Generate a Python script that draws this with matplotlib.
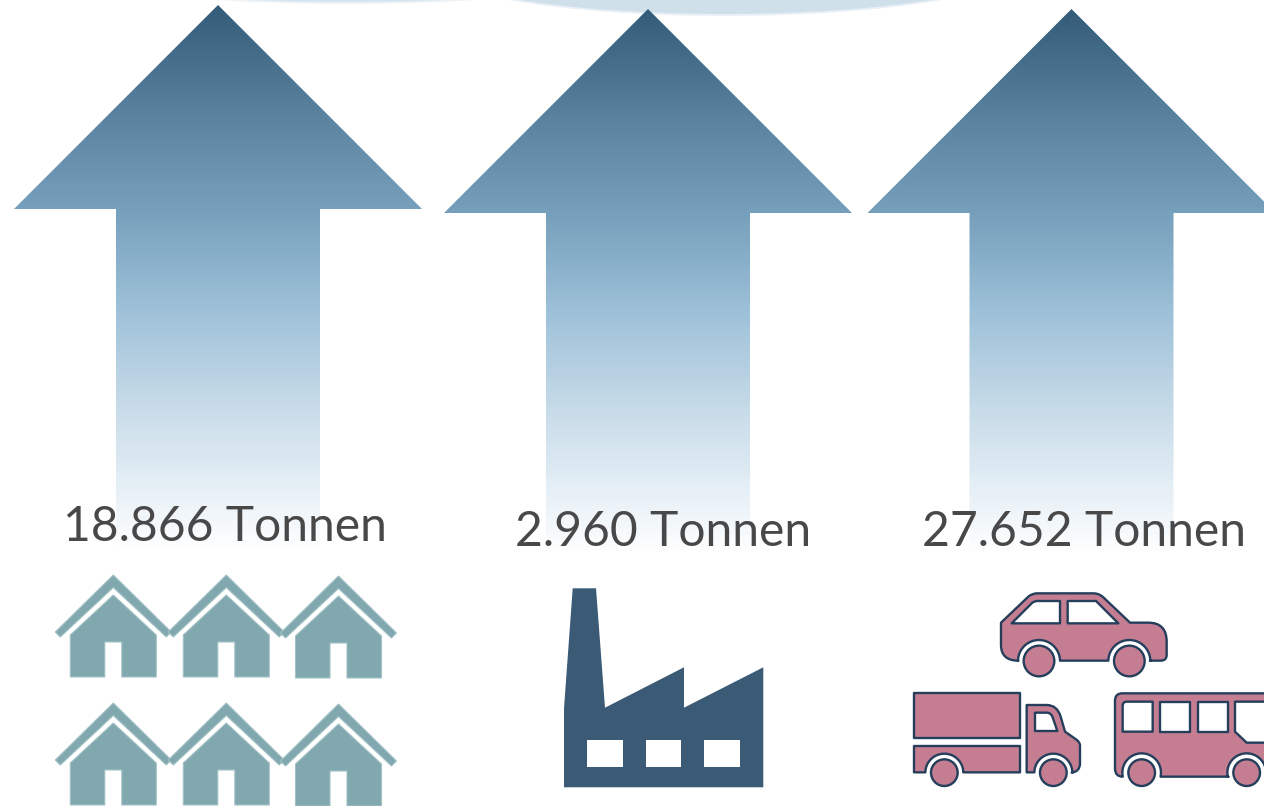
import numpy as np
import matplotlib
matplotlib.use("Agg")
import matplotlib.pyplot as plt
from matplotlib.path import Path
from matplotlib.patches import PathPatch, Polygon, Ellipse, Rectangle, Circle
from matplotlib.colors import LinearSegmentedColormap

# --- content ---
tonnages = ["18.866", "2.960", "27.652"]
unit = "Tonnen"
label_centres = [225, 663, 1083.5]
label_baselines = [541, 545.5, 545.5]
arrow_tips = [(218, 5), (648, 9), (1071.5, 9)]

W, H = 1264, 806
fig = plt.figure(figsize=(W / 100, H / 100), dpi=100, facecolor="white")
ax = fig.add_axes([0, 0, 1, 1])
ax.set_xlim(0, W)
ax.set_ylim(H, 0)
ax.axis("off")

# clouds at top edge
ax.add_patch(Ellipse((347, -14), 408, 36, fc="#edf3f7", ec="none", zorder=1))
ax.add_patch(Ellipse((347, -14), 400, 32, fc="#d5e3ee", ec="none", zorder=1))
ax.add_patch(Ellipse((725, -37.5), 606, 107, fc="#e9f0f6", ec="none", zorder=1))
ax.add_patch(Ellipse((725, -37.5), 600, 103, fc="#d0e0eb", ec="none", zorder=1))

# arrows
cmap = LinearSegmentedColormap.from_list("arr", [
    (0.00, "#345c78"), (0.20, "#5a83a0"), (0.375, "#76a0bc"), (0.55, "#9cc0d8"),
    (0.72, "#c4d9e7"), (0.88, "#e5eff6"), (1.00, "#ffffff")])
grad = np.linspace(0, 1, 600)[:, None]
for tx, ty in arrow_tips:
    base = ty + 204
    bottom = ty + 546
    im = ax.imshow(grad, cmap=cmap, extent=[tx - 210, tx + 210, bottom, ty],
                   aspect="auto", zorder=2, interpolation="bilinear")
    poly = Polygon([(tx, ty), (tx + 204, base), (tx + 102, base), (tx + 102, bottom),
                    (tx - 102, bottom), (tx - 102, base), (tx - 204, base)],
                   closed=True, transform=ax.transData, fc="none", ec="none")
    ax.add_patch(poly)
    im.set_clip_path(poly)
ax.set_xlim(0, W)
ax.set_ylim(H, 0)

# labels
for t, cx, by in zip(tonnages, label_centres, label_baselines):
    ax.text(cx, by, f"{t} {unit}", family="Lato", fontsize=34.6, color="#484848",
            ha="center", va="baseline", zorder=5)

# houses
HOUSE = "#80a8ae"
EDGE = "#a3c2c6"
def house(cx, top):
    roof = [(cx, top), (cx + 58, top + 57), (cx + 53, top + 62), (cx, top + 12.5),
            (cx - 53, top + 62), (cx - 58, top + 57)]
    ax.add_patch(Polygon(roof, closed=True, fc=HOUSE, ec=EDGE, lw=0.8, zorder=4))
    body = [(cx, top + 20), (cx + 43, top + 60), (cx + 43, top + 102), (cx + 8.5, top + 102),
            (cx + 8.5, top + 67), (cx - 8.5, top + 67), (cx - 8.5, top + 102),
            (cx - 43, top + 102), (cx - 43, top + 60)]
    ax.add_patch(Polygon(body, closed=True, fc=HOUSE, ec=EDGE, lw=0.8, zorder=4))
for top in (575, 703):
    for cx, dy in ((113.3, 0), (226.3, 0), (338.5, 1)):
        house(cx, top + dy)

# factory
FACT = "#3b5a75"
ax.add_patch(Polygon([(564, 787.3), (564, 708.3), (572.7, 588.3), (596, 588.3), (605, 707.7),
                      (684, 667.3), (684, 707.7), (763.3, 667.3), (763.3, 787.3)],
                     closed=True, fc=FACT, ec="none", zorder=4))
for x0, x1 in ((587.3, 622.7), (646, 681.3), (704.3, 740)):
    ax.add_patch(Rectangle((x0, 740.3), x1 - x0, 26.4, fc="white", ec="none", zorder=5))

# vehicles (outline coordinates given in 3x crop space)
PINK, NAVY = "#c57e91", "#253e5c"
LW = 1.7
def Z(p):
    return (900 + p[0] / 3, 580 + p[1] / 3)

def arch2(cx, cy, r, ybase):
    # from right foot over the top to the left foot
    d = cy - ybase   # positive if base is above centre
    a = np.arcsin(np.clip(d / r, -1, 1))
    th = np.linspace(a, np.pi - a, 30)
    return [(cx + r * np.cos(t), cy - r * np.sin(t)) for t in th]

def shape(segs, fc=PINK, z=4):
    verts, codes = [], []
    for s in segs:
        if s[0] == "q":
            verts += [Z(s[1]), Z(s[2])]
            codes += [Path.CURVE3, Path.CURVE3]
        else:
            codes.append(Path.MOVETO if not verts else Path.LINETO)
            verts.append(Z(s))
    verts.append(verts[0])
    codes.append(Path.CLOSEPOLY)
    ax.add_patch(PathPatch(Path(verts, codes), fc=fc, ec=NAVY, lw=LW, zorder=z, joinstyle="round"))

def wheel(cx, cy, r):
    c = Z((cx, cy))
    ax.add_patch(Circle(c, r / 3, fc=PINK, ec=NAVY, lw=LW, zorder=5))

# car
shape([(355, 242), ("q", (303, 242), (303, 195)), (303, 128), (385, 50), ("q", (396, 40), (412, 40)),
       (580, 40), ("q", (597, 40), (610, 52)), (690, 128), (745, 128), ("q", (800, 128), (800, 185)),
       (800, 225), ("q", (800, 242), (782, 242)), (750, 242)]
      + arch2(688, 243, 63, 242) + [(480, 242)] + arch2(417, 243, 63, 242))
shape([(335, 130), (395, 70), ("q", (402, 63), (412, 63)), (480, 63), (480, 130)], fc="white", z=5)
shape([(503, 63), (588, 63), (655, 130), (503, 130)], fc="white", z=5)
wheel(417, 243, 46); wheel(688, 243, 46)

# truck
shape([(42, 340), (360, 340), (360, 475), (42, 475)])
shape([(42, 498), (360, 498), (360, 577), (190, 577)] + arch2(133, 578, 57, 577) + [(42, 577)])
shape([(380, 375), (440, 375), ("q", (472, 375), (482, 410)), (495, 455), (528, 478),
       ("q", (540, 486), (540, 497)), (540, 550), ("q", (540, 575), (515, 578))]
      + arch2(460, 578, 57, 577) + [(380, 577)])
shape([(405, 398), (440, 398), ("q", (453, 398), (458, 412)), (472, 453), (405, 453)], fc="white", z=5)
wheel(133, 578, 40); wheel(460, 578, 40)

# bus (runs past the right edge)
shape([(668, 590), ("q", (645, 590), (645, 565)), (645, 362), ("q", (645, 340), (667, 340)),
       (1180, 340), ("q", (1200, 340), (1200, 362)), (1200, 565), ("q", (1200, 590), (1175, 590)),
       (1097, 590)] + arch2(1040, 578, 58, 590) + [(985, 590), (782, 590)] + arch2(725, 578, 58, 590))
shape([(668, 378), ("q", (668, 365), (680, 365)), (758, 365), (758, 455), (668, 455)], fc="white", z=5)
shape([(780, 365), (870, 365), (870, 455), (780, 455)], fc="white", z=5)
shape([(893, 365), (985, 365), (985, 455), (893, 455)], fc="white", z=5)
shape([(1005, 365), (1180, 365), (1180, 488), (1040, 488), (1005, 455)], fc="white", z=5)
wheel(725, 578, 40); wheel(1040, 578, 40)

fig.savefig("out.png", dpi=100, facecolor="white")
